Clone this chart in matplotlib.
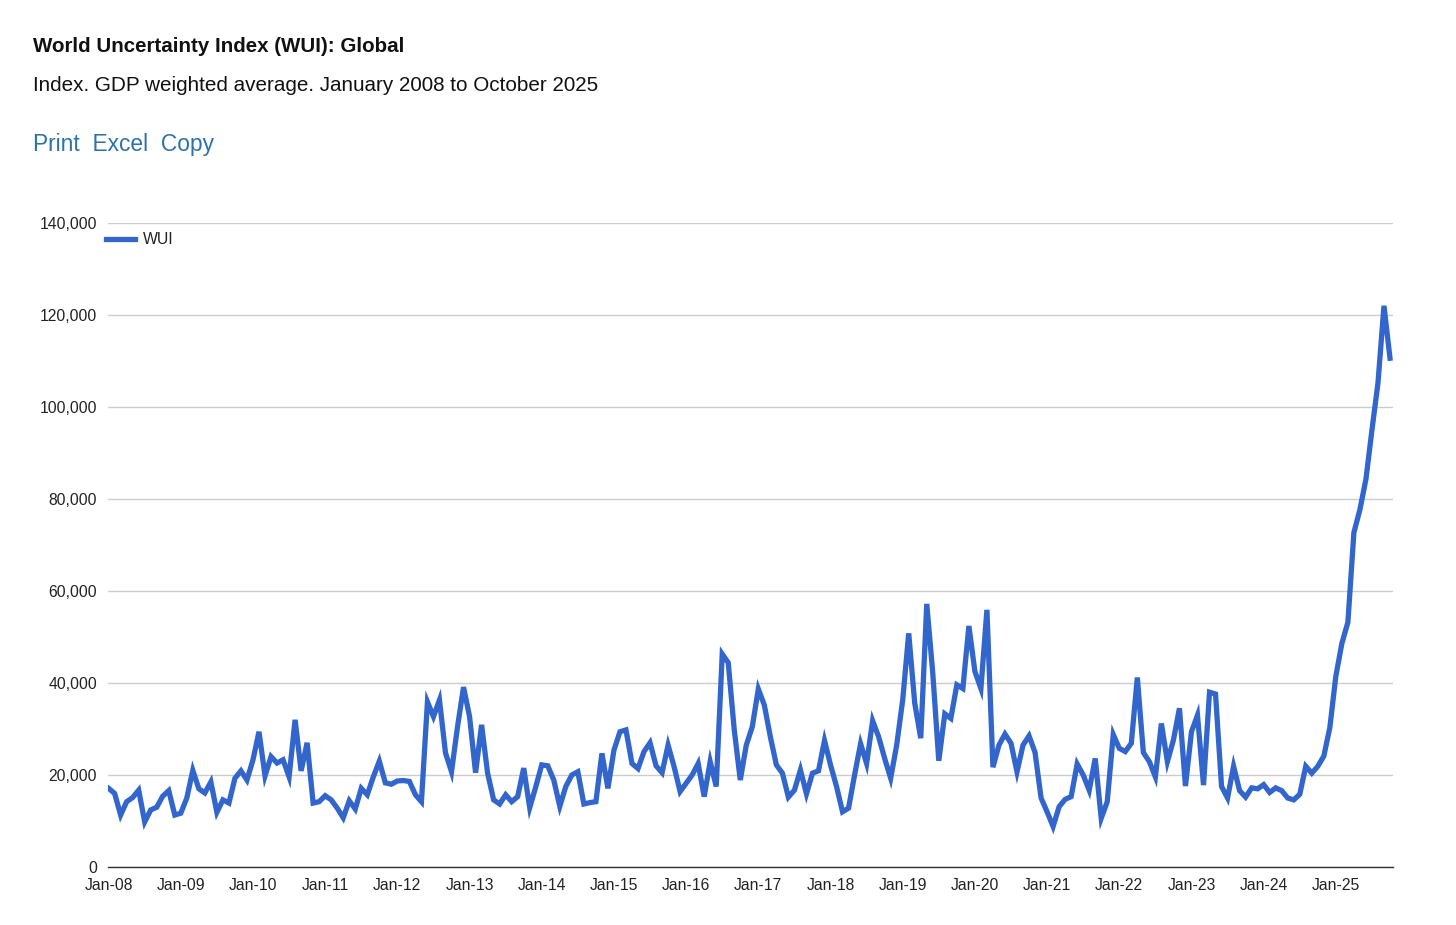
import matplotlib
matplotlib.use("Agg")
import matplotlib.pyplot as plt
from matplotlib.ticker import FuncFormatter, FixedLocator

plt.rcParams['font.family'] = ['Liberation Sans', 'DejaVu Sans']

title = "World Uncertainty Index (WUI): Global"
subtitle = "Index. GDP weighted average. January 2008 to October 2025"
links = "Print  Excel  Copy"
series_name = "WUI"

year_labels = ["Jan-08", "Jan-09", "Jan-10", "Jan-11", "Jan-12", "Jan-13", "Jan-14",
               "Jan-15", "Jan-16", "Jan-17", "Jan-18", "Jan-19", "Jan-20", "Jan-21",
               "Jan-22", "Jan-23", "Jan-24", "Jan-25"]

wui_2008 = [17100, 16000, 11300, 14200, 15100, 16700, 9800, 12400, 13000, 15400, 16600, 11300]
wui_2009 = [11700, 15000, 21000, 17000, 16100, 18500, 11900, 14600, 13900, 19300, 20900, 18900]
wui_2010 = [23300, 29400, 19800, 24000, 22600, 23300, 19600, 32000, 20900, 27000, 13900, 14200]
wui_2011 = [15500, 14600, 12800, 10700, 14400, 12600, 17100, 15700, 19600, 23000, 18300, 18000]
wui_2012 = [18700, 18800, 18600, 15700, 14200, 35900, 32700, 36300, 24800, 20700, 30500, 39100]
wui_2013 = [32700, 20500, 30900, 20400, 14600, 13700, 15700, 14200, 15300, 21500, 12900, 17400]
wui_2014 = [22200, 22000, 18900, 13200, 17500, 20000, 20700, 13700, 14000, 14200, 24700, 17100]
wui_2015 = [25400, 29400, 29800, 22500, 21400, 25100, 27000, 22000, 20500, 26500, 21800, 16400]
wui_2016 = [18200, 20000, 22500, 15300, 22900, 17500, 46300, 44400, 29800, 18900, 26500, 30500]
wui_2017 = [38700, 35200, 28300, 22200, 20400, 15200, 16700, 21100, 15900, 20400, 20900, 27500]
wui_2018 = [22200, 17500, 12000, 12800, 20000, 26800, 22500, 31800, 28300, 23600, 19300, 26500]
wui_2019 = [36300, 50800, 35600, 28000, 57200, 42100, 23100, 33300, 32300, 39600, 38800, 52400]
wui_2020 = [42500, 38800, 55900, 21700, 26500, 28900, 26900, 20700, 26500, 28500, 24900, 15000]
wui_2021 = [12000, 8800, 13100, 14700, 15300, 22400, 20000, 16700, 23600, 10600, 14200, 28800]
wui_2022 = [25800, 25100, 26900, 41200, 24900, 22900, 19600, 31200, 22900, 27600, 34500, 17600]
wui_2023 = [29400, 33000, 17800, 38000, 37600, 17500, 15000, 21900, 16600, 15200, 17200, 17000]
wui_2024 = [17900, 16200, 17200, 16600, 15000, 14600, 15800, 21900, 20400, 21900, 24100, 30300]
wui_2025 = [41500, 48600, 53200, 72700, 77700, 84300, 95000, 105200, 122000, 110600]

wui = (wui_2008 + wui_2009 + wui_2010 + wui_2011 + wui_2012 + wui_2013 + wui_2014 +
       wui_2015 + wui_2016 + wui_2017 + wui_2018 + wui_2019 + wui_2020 + wui_2021 +
       wui_2022 + wui_2023 + wui_2024 + wui_2025)
months = list(range(len(wui)))

W, H = 1456, 925
fig = plt.figure(figsize=(W / 100, H / 100), dpi=100)
fig.patch.set_facecolor("white")

ax = fig.add_axes([108 / W, 1 - 867 / H, (1393 - 108) / W, (867 - 223) / H])
ax.plot(months, wui, color="#3366cc", lw=3.8, solid_joinstyle="miter", label=series_name)

ax.set_ylim(0, 140000)
ax.set_xlim(-0.1, 213.5)
ax.yaxis.set_major_locator(FixedLocator(list(range(0, 140001, 20000))))
ax.yaxis.set_major_formatter(FuncFormatter(lambda v, p: f"{int(v):,}"))
ax.set_xticks([12 * i for i in range(len(year_labels))])
ax.set_xticklabels(year_labels)
ax.grid(axis="y", color="#cccccc", lw=1.0)
ax.set_axisbelow(True)
for s in ["top", "right", "left"]:
    ax.spines[s].set_visible(False)
ax.spines["bottom"].set_color("#333333")
ax.spines["bottom"].set_linewidth(1.0)
ax.tick_params(axis="both", length=0, labelsize=11.3, colors="#222222")
ax.tick_params(axis="y", pad=8)
ax.tick_params(axis="x", pad=8)

leg = ax.legend(loc="center left", bbox_to_anchor=(-0.0016, (867 - 240) / (867 - 223)),
                frameon=False, borderpad=0, borderaxespad=0,
                handlelength=1.85, handletextpad=0.5, fontsize=11.3)
for t in leg.get_texts():
    t.set_color("#222222")

fig.text(33 / W, 1 - 46 / H, title, fontsize=14.8, fontweight="bold", va="center", ha="left", color="#111111")
fig.text(33 / W, 1 - 85.5 / H, subtitle, fontsize=14.85, va="center", ha="left", color="#111111")
fig.text(33 / W, 1 - 145 / H, links, fontsize=16.4, va="center", ha="left", color="#2f72a8")

fig.savefig("out.png", dpi=100, facecolor="white")
